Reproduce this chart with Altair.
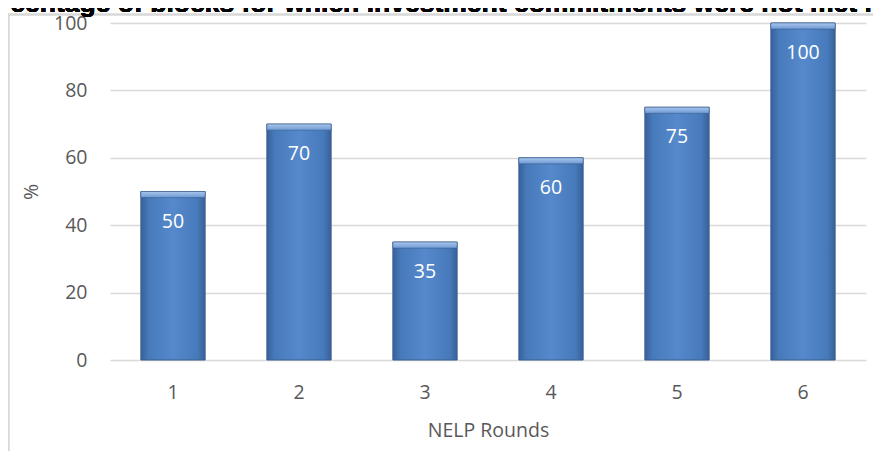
import altair as alt
import pandas as pd

rounds = ["1", "2", "3", "4", "5", "6"]
values = [50, 70, 35, 60, 75, 100]
y_ticks = [0, 20, 40, 60, 80, 100]
title_text = "Percentage of blocks for which investment commitments were not met in"

df = pd.DataFrame({"round": rounds, "value": values})

FONT = "Open Sans"
GRAY = "#595959"

x_enc = alt.X("round:N", sort=rounds, title="NELP Rounds",
              scale=alt.Scale(paddingInner=0.49, paddingOuter=0.245),
              axis=alt.Axis(labelAngle=0, labelFont=FONT, labelFontSize=19.5, labelColor=GRAY,
                            titleFont=FONT, titleFontSize=19.5, titleColor=GRAY, titleFontWeight="normal",
                            labelPadding=23, titlePadding=20, ticks=False, domain=False, grid=False))
y_enc = alt.Y("value:Q", title="%",
              scale=alt.Scale(domain=[0, 100]),
              axis=alt.Axis(values=y_ticks, labelFont=FONT, labelFontSize=19.5, labelColor=GRAY,
                            titleFont=FONT, titleFontSize=19.5, titleColor=GRAY, titleFontWeight="normal",
                            labelPadding=23, titlePadding=12, ticks=False, domain=False,
                            gridColor="#d9d9d9", gridWidth=1.5))

grad = alt.Gradient(
    gradient="linear", x1=0, x2=1, y1=0, y2=0,
    stops=[alt.GradientStop(color="#37609a", offset=0),
           alt.GradientStop(color="#477aba", offset=0.12),
           alt.GradientStop(color="#5589cc", offset=0.5),
           alt.GradientStop(color="#477aba", offset=0.88),
           alt.GradientStop(color="#37609a", offset=1)])

bars = alt.Chart(df).mark_bar(fill=grad, stroke="#3b5f8f", strokeWidth=1).encode(
    x=x_enc, y=y_enc)

bevel = alt.Chart(df).transform_calculate(top2="datum.value - 1.8").mark_bar(
    fill=alt.Gradient(gradient="linear", x1=0, x2=0, y1=0, y2=1,
                      stops=[alt.GradientStop(color="#a9c6ec", offset=0),
                             alt.GradientStop(color="#6e9ad4", offset=1)]),
    stroke="#3b5f8f", strokeWidth=0.6).encode(
    x=alt.X("round:N", sort=rounds), y="value:Q", y2="top2:Q")

labels = alt.Chart(df).mark_text(color="white", font=FONT, fontSize=19.5, baseline="middle", dy=30).encode(
    x=alt.X("round:N", sort=rounds), y="value:Q", text="value:Q")

border = alt.Chart(df).mark_rect(fill=None, stroke="#d9d9d9", strokeWidth=1.5).encode(
    x=alt.value(-101.5), x2=alt.value(900), y=alt.value(-8.5), y2=alt.value(500))

title = alt.Chart(df).mark_text(text=title_text, font="Liberation Sans", fontWeight="bold",
                                fontSize=26.5, align="left", baseline="alphabetic", color="black").encode(
    x=alt.value(-142.4), y=alt.value(-11.5))

chart = alt.layer(border, bars, bevel, labels, title).properties(
    width=756, height=337,
    autosize=alt.AutoSizeParams(type="none"),
    padding={"left": 102, "top": 15, "right": 7, "bottom": 91},
).configure_view(stroke=None)

chart.save("out.html", embed_options={"renderer": "svg", "actions": False})
